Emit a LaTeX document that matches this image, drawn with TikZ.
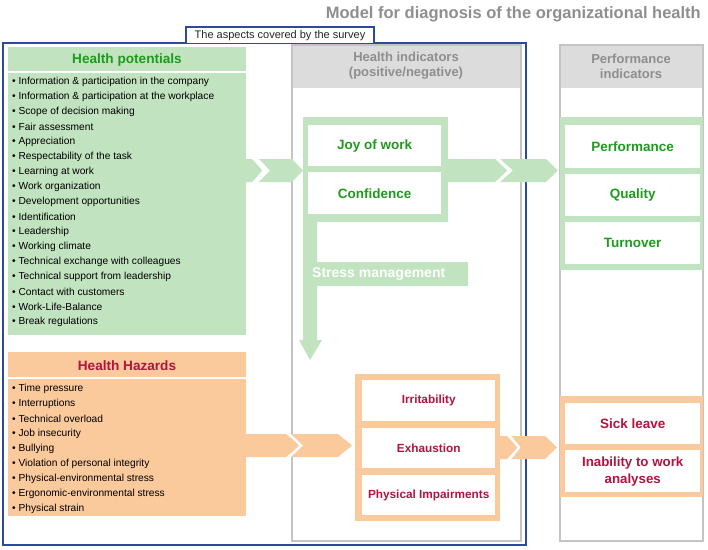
\documentclass[tikz,border=0pt]{standalone}
\usepackage{fontspec}
\setmainfont{Liberation Sans}
\begin{document}
\begin{tikzpicture}[x=1pt,y=-1pt,
  inbox/.style={fill=white,draw=none,minimum width=133,minimum height=41,inner sep=0,anchor=north west,font=\bfseries\fontsize{13.5}{16}\selectfont,align=center},
  item/.style={anchor=west,font=\fontsize{10.2}{12}\selectfont,inner sep=0},
  col/.style={draw=bd,line width=1.2,fill=white},
  hd/.style={fill=hdg,draw=none},
  gap/.style={draw=white,line width=2.5}]
\definecolor{gr}{HTML}{C1E3BF}
\definecolor{orr}{HTML}{FAC99C}
\definecolor{gtx}{HTML}{1E9B1E}
\definecolor{rtx}{HTML}{B2133F}
\definecolor{hdg}{HTML}{DCDCDC}
\definecolor{bd}{HTML}{C4C4C4}
\definecolor{bl}{HTML}{2E4B9B}
\definecolor{tg}{HTML}{8E8E8E}
\useasboundingbox (0,0) rectangle (708,549);
% title
\node[anchor=east,text=tg,font=\bfseries\fontsize{16.5}{18}\selectfont,inner sep=0] (title) at (701,14) {Model for diagnosis of the organizational health};
% columns
\draw[col] (292,45) rectangle (521,541);
\fill[hd] (292.6,45.6) rectangle (520.4,88);
\node[text=tg,font=\bfseries\fontsize{13}{15}\selectfont,align=center] (hi) at (406,66) {Health indicators\\(positive/negative)};
\draw[col] (560,45) rectangle (703,541);
\fill[hd] (560.6,45.6) rectangle (702.4,88);
\node[text=tg,font=\bfseries\fontsize{13}{15}\selectfont,align=center] (pi) at (631,66) {Performance\\indicators};
% blue box
\draw[bl,line width=1.6] (3,43) rectangle (526,545);
\draw[bl,line width=1.2,fill=white] (186,43) -- (186,27) -- (374,27) -- (374,43);
\node[font=\fontsize{11}{12}\selectfont,text=black!85] (asp) at (280,35.5) {The aspects covered by the survey};
% health potentials
\fill[gr] (8,47) rectangle (246,335);
\draw[white,line width=1.2] (8,72) -- (246,72);
\node[text=gtx,font=\bfseries\fontsize{13.6}{15}\selectfont] (hp) at (127,60) {Health potentials};
\foreach \t [count=\i from 0] in {Information \& participation in the company,Information \& participation at the workplace,Scope of decision making,Fair assessment,Appreciation,Respectability of the task,Learning at work,Work organization,Development  opportunities,Identification,Leadership,Working climate,Technical exchange with colleagues,Technical support from leadership,Contact with customers,Work-Life-Balance,Break regulations}
  \node[item] (p\i) at (12,82+15*\i) {\textbullet\ \t};
% health hazards
\fill[orr] (8,352) rectangle (246,516);
\draw[white,line width=1.2] (8,378) -- (246,378);
\node[text=rtx,font=\bfseries\fontsize{13.6}{15}\selectfont] (hh) at (127,366) {Health Hazards};
\foreach \t [count=\i from 0] in {Time pressure,Interruptions,Technical overload,Job insecurity,Bullying,Violation of personal integrity,Physical-environmental stress,Ergonomic-environmental stress,Physical strain}
  \node[item] (h\i) at (12,389+15*\i) {\textbullet\ \t};
% green chevrons
\fill[gr] (246,159) -- (252,159) -- (263,170.5) -- (252,182) -- (246,182) -- cycle;
\fill[gr] (259,159) -- (292,159) -- (303,170.5) -- (292,182) -- (259,182) -- (270,170.5) -- cycle;
\draw[gap] (253,157) -- (264,170.5) -- (253,184);
% joy frame
\fill[gr] (303,117) rectangle (448,222);
\node[inbox,text=gtx] (joy) at (308,125) {Joy of work};
\node[inbox,text=gtx,minimum height=42] (conf) at (308,172) {Confidence};
\fill[gr] (448,159) -- (495,159) -- (508,170.5) -- (495,182) -- (448,182) -- cycle;
\fill[gr] (500,159) -- (546,159) -- (558,170.5) -- (546,182) -- (500,182) -- (513,170.5) -- cycle;
\draw[gap] (496,157) -- (509,170.5) -- (496,184);
% performance frame
\fill[gr] (560,117) rectangle (703,270);
\node[inbox,text=gtx,minimum width=135,minimum height=43] (perf) at (565,125) {Performance};
\node[inbox,text=gtx,minimum width=135,minimum height=42] (qual) at (565,174) {Quality};
\node[inbox,text=gtx,minimum width=135,minimum height=42] (turn) at (565,222) {Turnover};
% stress arrow
\fill[gr] (303,222) -- (317,222) -- (317,340) -- (322,340) -- (310,360) -- (299,340) -- (303,340) -- cycle;
\fill[gr] (317,262) rectangle (468,286);
\node[anchor=west,text=white,font=\bfseries\fontsize{14}{16}\selectfont,inner sep=0] (sm) at (312,274) {Stress management};
% orange chevrons
\fill[orr] (246,434) -- (286,434) -- (300,445.5) -- (286,457) -- (246,457) -- cycle;
\fill[orr] (288,434) -- (338,434) -- (352,445.5) -- (338,457) -- (288,457) -- (302,445.5) -- cycle;
\draw[gap] (287,432) -- (301,445.5) -- (287,459);
% orange frame
\fill[orr] (355,374) rectangle (500,521);
\node[inbox,text=rtx,minimum height=41,font=\bfseries\fontsize{11.8}{14}\selectfont] (irr) at (362,380) {Irritability};
\node[inbox,text=rtx,minimum height=40,font=\bfseries\fontsize{11.8}{14}\selectfont] (exh) at (362,428) {Exhaustion};
\node[inbox,text=rtx,minimum height=40,font=\bfseries\fontsize{11.8}{14}\selectfont] (phy) at (362,475) {Physical Impairments};
\fill[orr] (500,436) -- (507,436) -- (518,447.5) -- (507,459) -- (500,459) -- cycle;
\fill[orr] (510,436) -- (545,436) -- (557,447.5) -- (545,459) -- (510,459) -- (521,447.5) -- cycle;
\draw[gap] (508,434) -- (519,447.5) -- (508,461);
% sick leave frame
\fill[orr] (560,396) rectangle (703,497);
\node[inbox,text=rtx,minimum width=135,minimum height=41] (sick) at (565,403) {Sick leave};
\node[inbox,text=rtx,minimum width=135,minimum height=42,font=\bfseries\fontsize{13.3}{17}\selectfont] (inab) at (565,450) {Inability to work\\analyses};
\end{tikzpicture}
\end{document}
